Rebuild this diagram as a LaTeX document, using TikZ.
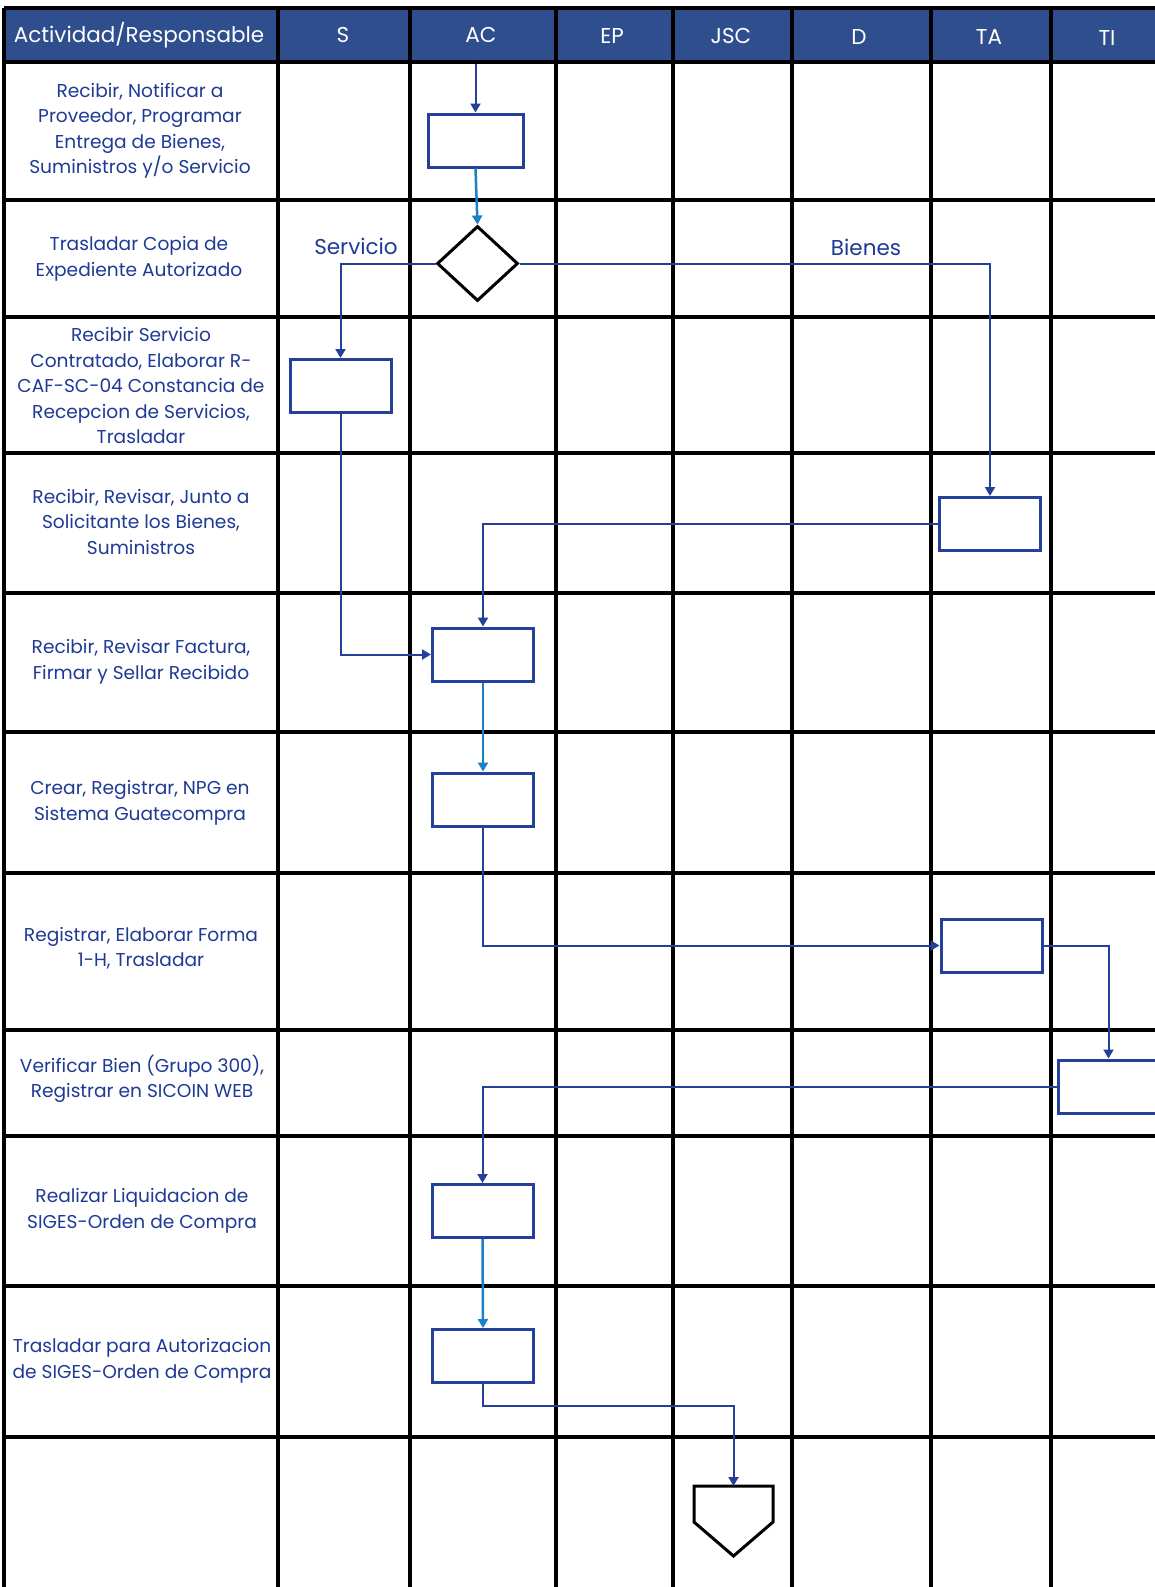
\documentclass[tikz,border=0pt]{standalone}
\usepackage{fontspec}
\setmainfont{Poppins}
\usetikzlibrary{arrows.meta,shapes.geometric}
\definecolor{azulcab}{HTML}{2F4E8E}
\definecolor{azultexto}{HTML}{1F3A96}
\definecolor{azullinea}{HTML}{25409A}
\definecolor{celeste}{HTML}{1C80C8}

\begin{document}
\begin{tikzpicture}[x=1pt, y=-1pt,
  rejilla/.style={black, line width=4.5pt},
  caja/.style={draw=azullinea, line width=3pt, rectangle, minimum width=101pt, minimum height=53pt, inner sep=0pt},
  decision/.style={draw=black, line width=3pt, diamond, minimum width=81pt, minimum height=75pt, inner sep=0pt},
  flecha/.style={azullinea, line width=2pt, -{Triangle[length=9pt,width=10pt]}},
  flechac/.style={celeste, line width=2.5pt, -{Triangle[length=9pt,width=10pt]}},
  actividad/.style={text=azultexto, align=center, inner sep=0pt, font=\fontsize{18.6}{25.5}\selectfont},
  cabecera/.style={text=white, inner sep=0pt, font=\fontsize{21.5}{25}\selectfont},
  rama/.style={text=azultexto, inner sep=0pt, font=\fontsize{21.5}{25}\selectfont}]

\useasboundingbox (0,0) rectangle (1155,1587);
\clip (0,0) rectangle (1155,1587);
\fill[white] (0,0) rectangle (1155,1587);

% ================= cabecera =================
\fill[azulcab] (4,8) rectangle (1170,62);
\node[cabecera] (hAct) at (139,35) {Actividad/Responsable};
\node[cabecera] (hS)   at (343,35) {S};
\node[cabecera] (hAC)  at (481,35) {AC};
\node[cabecera] (hEP)  at (612,36) {EP};
\node[cabecera] (hJSC) at (731,36) {JSC};
\node[cabecera] (hD)   at (859,37) {D};
\node[cabecera] (hTA)  at (989,37) {TA};
\node[cabecera] (hTI)  at (1107,38) {TI};

% ================= rejilla =================
\foreach \y in {8,62,200,317,453,593,732,873,1030,1136,1286,1437}
  \draw[rejilla] (4,\y) -- (1170,\y);
\foreach \x in {4,278,410,556,673,792,931,1051}
  \draw[rejilla, line width=3.5pt] (\x,8) -- (\x,1600);

% ================= actividades =================
\node[actividad] (a1) at (140,131) {Recibir, Notificar a\\Proveedor, Programar\\Entrega de Bienes,\\Suministros y/o Servicio};
\node[actividad] (a2) at (139,259) {Trasladar Copia de\\Expediente Autorizado};
\node[actividad] (a3) at (141,386) {Recibir Servicio\\Contratado, Elaborar R-\\CAF-SC-04 Constancia de\\Recepcion de Servicios,\\Trasladar};
\node[actividad] (a4) at (141,522) {Recibir, Revisar, Junto a\\Solicitante los Bienes,\\Suministros};
\node[actividad] (a5) at (141,662) {Recibir, Revisar Factura,\\Firmar y Sellar Recibido};
\node[actividad] (a6) at (140,803) {Crear, Registrar, NPG en\\Sistema Guatecompra};
\node[actividad] (a7) at (141,948) {Registrar, Elaborar Forma\\1-H, Trasladar};
\node[actividad] (a8) at (142,1079) {Verificar Bien (Grupo 300),\\Registrar en SICOIN WEB};
\node[actividad] (a9) at (142,1211) {Realizar Liquidacion de\\SIGES-Orden de Compra};
\node[actividad] (a10) at (142,1361) {Trasladar para Autorizacion\\de SIGES-Orden de Compra};

% ================= flujo =================
\coordinate (inicio) at (475.5,64);
\node[caja, minimum width=95pt] (b1) at (475.5,140.5) {};
\node[decision] (dec) at (477.5,263.5) {};
\node[caja] (b3) at (340.5,386) {};
\node[caja] (b4) at (990,524) {};
\node[caja] (b5) at (483,654.5) {};
\node[caja] (b6) at (483,799.5) {};
\node[caja] (b7) at (991.5,945.5) {};
\node[caja] (b8) at (1108.5,1086.5) {};
\node[caja] (b9) at (482.5,1211) {};
\node[caja] (b10) at (483,1356) {};
% conector fuera de pagina
\draw[black, line width=3pt] (694,1486) -- (773,1486) -- (773,1522) -- (733.5,1556) -- (694,1522) -- cycle;
\coordinate (fin) at (733.5,1486);

\node[rama] (servicio) at (356,246) {Servicio};
\node[rama] (bienes) at (866,247) {Bienes};

\draw[flecha] (inicio) -- (b1.north);
\draw[flechac] (b1.south) -- (dec.north);
\draw[flecha] (dec.west) -| (b3.north);
\draw[flecha] (dec.east) -| (b4.north);
\draw[flecha] (b3.south) |- (b5.west);
\draw[flecha] (b4.west) -| (b5.north);
\draw[flechac] (b5.south) -- (b6.north);
\draw[flecha] (b6.south) |- (b7.west);
\draw[flecha] (b7.east) -| (b8.north);
\draw[flecha] (b8.west) -| (b9.north);
\draw[flechac] (b9.south) -- (b10.north);
\draw[flecha] (b10.south) -- ++(0,22) -| (fin);

\end{tikzpicture}
\end{document}
